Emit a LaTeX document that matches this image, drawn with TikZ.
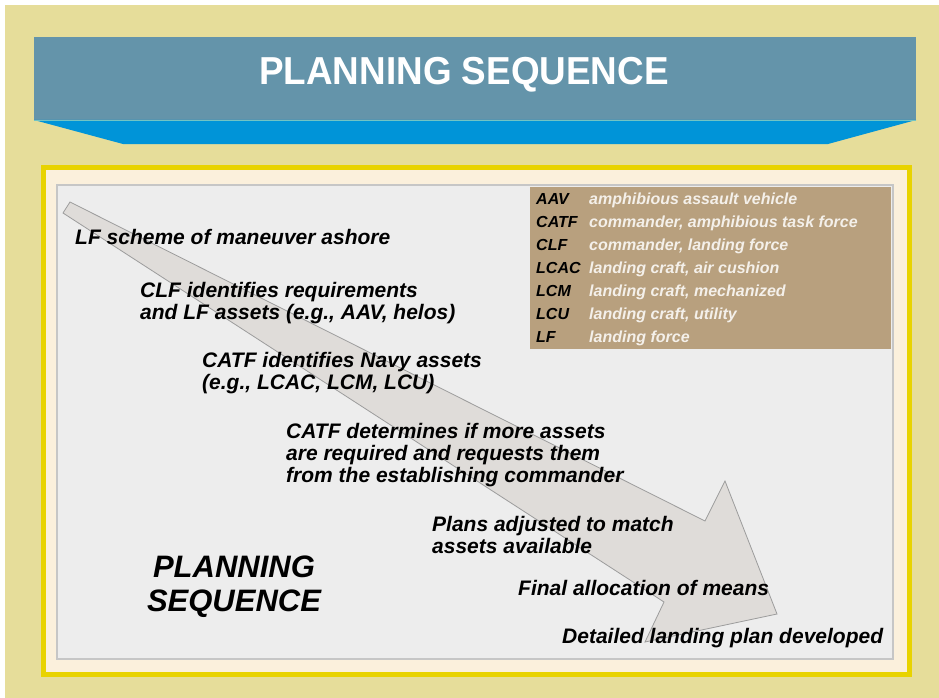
\documentclass[tikz,border=0pt]{standalone}
\usepackage{fontspec}
\setmainfont{Liberation Sans}
\definecolor{khaki}{HTML}{E6DD9A}
\definecolor{bannerc}{HTML}{6494AA}
\definecolor{bluec}{HTML}{0094D8}
\definecolor{tealc}{HTML}{72C4C4}
\definecolor{frameyel}{HTML}{E8D300}
\definecolor{creamc}{HTML}{FBF0DC}
\definecolor{panelc}{HTML}{EDEDED}
\definecolor{panelline}{HTML}{C6C6C6}
\definecolor{legendc}{HTML}{B8A07E}
\definecolor{deftext}{HTML}{F4F0EA}
\definecolor{arrowc}{HTML}{DFDCD9}
\definecolor{arrowline}{HTML}{9C9C9C}
\begin{document}
\begin{tikzpicture}[x=1pt,y=-1pt,
  stepnote/.style={font=\fontsize{21}{22.3}\selectfont\bfseries\itshape, inner sep=0pt, align=left, anchor=north west},
  abbr/.style={font=\fontsize{16}{18}\selectfont\bfseries\itshape, inner sep=0pt, anchor=base west},
  defn/.style={abbr, text=deftext}]
\useasboundingbox (0,0) rectangle (939,698);
\fill[white] (0,0) rectangle (939,698);
\fill[khaki] (5,5) rectangle (939,698);
% banner
\fill[bannerc] (34,37) rectangle (916,120);
\fill[bluec] (34,120) -- (916,120) -- (828,144) -- (123,144) -- cycle;
\draw[tealc, line width=1pt] (34,120.5) -- (916,120.5);
\node[font=\fontsize{39}{40}\selectfont\bfseries, text=white, inner sep=0pt] (title) at (464,75) {\scalebox{0.945}[1]{PLANNING SEQUENCE}};
% frame
\fill[frameyel] (41,165) rectangle (912,677);
\fill[creamc] (46,170) rectangle (907,672);
\filldraw[fill=panelc, draw=panelline, line width=1.3pt] (57,185) rectangle (893,659);
% legend
\node[fill=legendc, minimum width=361pt, minimum height=162pt, anchor=north west, inner sep=0pt] (legend) at (530,187) {};
\foreach \ab/\df [count=\i from 0] in {AAV/amphibious assault vehicle, CATF/{commander, amphibious task force}, CLF/{commander, landing force}, LCAC/{landing craft, air cushion}, LCM/{landing craft, mechanized}, LCU/{landing craft, utility}, LF/landing force} {
  \node[abbr] (ab\i) at (536,204+23.15*\i) {\ab};
  \node[defn] (df\i) at (589,204+23.15*\i) {\df};
}
% tapered arrow
\filldraw[fill=arrowc, draw=arrowline, line width=0.8pt, line join=miter]
  (70,202) -- (705,521) -- (725,481) -- (777,614) -- (645,642) -- (664,602) -- (63,213) -- cycle;
% steps
\node[stepnote] (s1) at (75,228.7) {LF scheme of maneuver ashore};
\node[stepnote] (s2) at (140,281.7) {CLF identifies requirements\\and LF assets (e.g., AAV, helos)};
\node[stepnote] (s3) at (202,351.7) {CATF identifies Navy assets\\(e.g., LCAC, LCM, LCU)};
\node[stepnote] (s4) at (286,422.7) {CATF determines if more assets\\are required and requests them\\from the establishing commander};
\node[stepnote] (s5) at (432,515.7) {Plans adjusted to match\\assets available};
\node[stepnote] (s6) at (518,579.7) {Final allocation of means};
\node[stepnote] (s7) at (562,627.7) {Detailed landing plan developed};
\node[font=\fontsize{31}{34}\selectfont\bfseries\itshape, align=center, inner sep=0pt, anchor=north] (bigtitle) at (234,556) {PLANNING\\SEQUENCE};
\end{tikzpicture}
\end{document}
